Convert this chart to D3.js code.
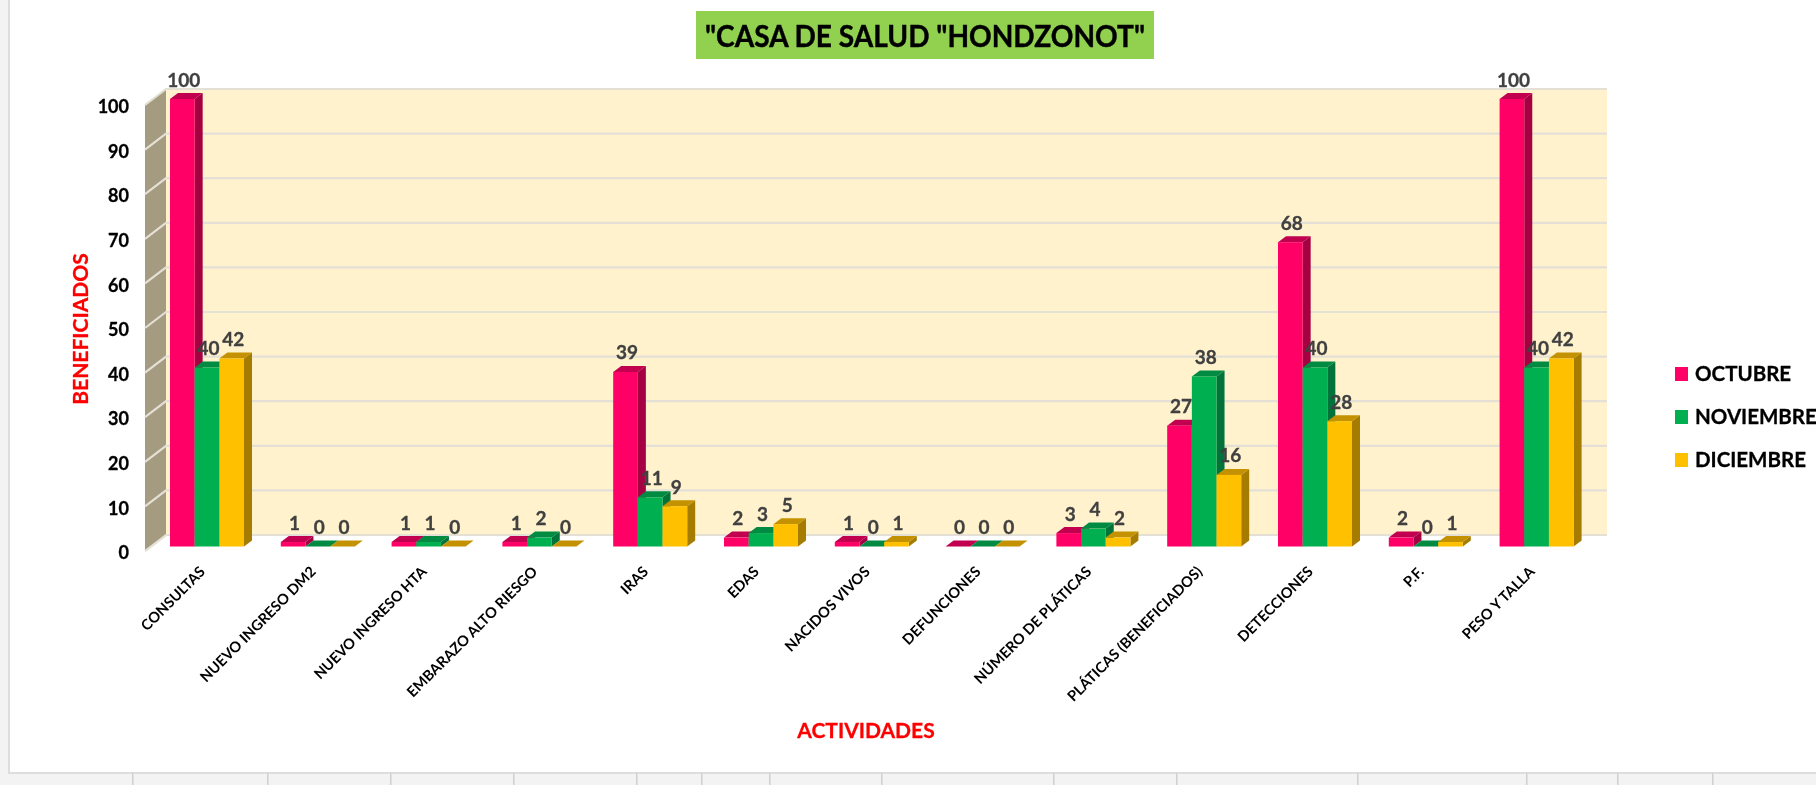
<!DOCTYPE html>
<html>
<head>
<meta charset="utf-8">
<title>Casa de Salud Hondzonot</title>
<script src="https://cdnjs.cloudflare.com/ajax/libs/d3/7.8.5/d3.min.js"></script>
<style>
	html, body { margin: 0; padding: 0; background: #fff; overflow: hidden; }
	svg { display: block; filter: blur(0.35px); font-family: Lato, sans-serif; font-weight: 700; }
	.domain { display: none; }
</style>
</head>
<body>
<div id="chart-container"></div>
<script>
const categories	= ['CONSULTAS', 'NUEVO INGRESO DM2', 'NUEVO INGRESO HTA', 'EMBARAZO ALTO RIESGO', 'IRAS', 'EDAS', 'NACIDOS VIVOS', 'DEFUNCIONES', 'NÚMERO DE PLÁTICAS', 'PLÁTICAS (BENEFICIADOS)', 'DETECCIONES', 'P.F.', 'PESO Y TALLA'];
const seriesNames	= ['OCTUBRE', 'NOVIEMBRE', 'DICIEMBRE'];
const octubre		= [100, 1, 1, 1, 39, 2, 1, 0, 3, 27, 68, 2, 100];
const noviembre		= [40, 0, 1, 2, 11, 3, 0, 0, 4, 38, 40, 0, 40];
const diciembre		= [42, 0, 0, 0, 9, 5, 1, 0, 2, 16, 28, 1, 42];
const yTicks		= [0, 10, 20, 30, 40, 50, 60, 70, 80, 90, 100];

const seriesValues	= [octubre, noviembre, diciembre];
const frontColors	= ['#FF0066', '#00B050', '#FFC000'];
const sideColors	= ['#A50042', '#00733A', '#A67C00'];
const topColors		= ['#C20050', '#008A42', '#C49200'];

// spreadsheet frame around the chart
const sheetDividers	= [132, 267, 390, 513, 636, 701, 769, 881, 1053, 1176, 1357, 1526, 1617, 1712];

let canvasWidth		= 1816;
let canvasHeight	= 785;

let wallDepth		= { x: 21, y: 16 };
let barDepth		= { x: 8, y: 6 };
let wall			= { left: 166, right: 1607, top: 89, bottom: 535 };

let svg = d3.select('#chart-container').append('svg')
	.attr('width', canvasWidth)
	.attr('height', canvasHeight);

svg.append('rect').attr('width', canvasWidth).attr('height', canvasHeight).attr('fill', '#fff');

let yWall	= d3.scaleLinear().domain([0, 100]).range([wall.bottom, wall.top]);
let yBar	= d3.scaleLinear().domain([0, 100]).range([546.5, 99]);
let x		= d3.scaleBand().domain(categories).range([151.6, 1592]).paddingInner(0.332).paddingOuter(0.166);
let xBar	= d3.scaleBand().domain(d3.range(seriesNames.length)).range([0, x.bandwidth()]);

// back wall
svg.append('rect')
	.attr('x', wall.left)
	.attr('y', wall.top)
	.attr('width', wall.right - wall.left)
	.attr('height', wall.bottom - wall.top)
	.attr('fill', '#FFF2CC');

// side wall
svg.append('polygon')
	.attr('points', [
		[wall.left - wallDepth.x, wall.top + wallDepth.y],
		[wall.left, wall.top],
		[wall.left, wall.bottom],
		[wall.left - wallDepth.x, wall.bottom + wallDepth.y]
	].join(' '))
	.attr('fill', '#A59B80');

// gridlines run along the back wall and down the side wall
svg.append('g').selectAll('polyline')
	.data(yTicks)
	.enter().append('polyline')
		.attr('points', (o) => [
			[wall.left - wallDepth.x, yWall(o) + wallDepth.y],
			[wall.left, yWall(o)],
			[wall.right, yWall(o)]
		].join(' '))
		.attr('fill', 'none')
		.attr('stroke', '#E4E0D6')
		.attr('stroke-width', 2.2);

// bars, one group per category, left to right so each covers the side of the previous
let barData = [];
categories.forEach((name, i) => {
	seriesValues.forEach((values, s) => {
		barData.push({ name: name, series: s, value: values[i] });
	});
});

let bars = svg.append('g').selectAll('g')
	.data(barData)
	.enter().append('g')
		.attr('transform', (o) => 'translate(' + (x(o.name) + xBar(o.series)) + ',0)');

let barWidth = xBar.bandwidth();

bars.append('polygon')
	.attr('fill', (o) => (sideColors[o.series]))
	.attr('points', (o) => [
		[barWidth, yBar(o.value)],
		[barWidth + barDepth.x, yBar(o.value) - barDepth.y],
		[barWidth + barDepth.x, yBar(0) - barDepth.y],
		[barWidth, yBar(0)]
	].join(' '));

bars.append('polygon')
	.attr('fill', (o) => (topColors[o.series]))
	.attr('points', (o) => [
		[0, yBar(o.value)],
		[barDepth.x, yBar(o.value) - barDepth.y],
		[barWidth + barDepth.x, yBar(o.value) - barDepth.y],
		[barWidth, yBar(o.value)]
	].join(' '));

bars.append('rect')
	.attr('fill', (o) => (frontColors[o.series]))
	.attr('width', barWidth)
	.attr('y', (o) => (yBar(o.value)))
	.attr('height', (o) => (yBar(0) - yBar(o.value)));

// value labels go last, they sit on top of neighbouring bars
svg.append('g').selectAll('text')
	.data(barData)
	.enter().append('text')
		.attr('x', (o) => (x(o.name) + xBar(o.series) + barWidth / 2 + 1.5))
		.attr('y', (o) => (yBar(o.value) - 12.5))
		.attr('text-anchor', 'middle')
		.attr('font-size', 19)
		.attr('fill', '#404040')
		.attr('stroke', '#404040')
		.attr('stroke-width', 0.3)
		.text((o) => (o.value));

// y axis labels sit on the front edge of the side wall
let yAxis = svg.append('g')
	.attr('transform', 'translate(129,' + (wallDepth.y + 2) + ')')
	.call(d3.axisLeft(yWall).tickValues(yTicks).tickSize(0).tickPadding(0));

yAxis.selectAll('text')
	.attr('font-family', 'Lato, sans-serif')
	.attr('font-size', 18)
	.attr('font-weight', 700)
	.attr('fill', '#000')
	.attr('stroke', '#000')
	.attr('stroke-width', 0.3);

// category labels
let xAxis = svg.append('g')
	.attr('transform', 'translate(-4.6,569)')
	.call(d3.axisBottom(x).tickSize(0).tickPadding(0));

xAxis.selectAll('text')
	.attr('font-family', 'Lato, sans-serif')
	.attr('font-size', 14.6)
	.attr('font-weight', 700)
	.attr('fill', '#000')
	.attr('text-anchor', 'end')
	.attr('y', 0)
	.attr('dy', '0.35em')
	.attr('transform', 'rotate(-45)');

// title
svg.append('rect')
	.attr('x', 696)
	.attr('y', 11)
	.attr('width', 458)
	.attr('height', 48)
	.attr('fill', '#92D050');

svg.append('text')
	.attr('x', 925)
	.attr('y', 47)
	.attr('text-anchor', 'middle')
	.attr('font-size', 30)
	.attr('textLength', 440)
	.attr('lengthAdjust', 'spacingAndGlyphs')
	.attr('fill', '#000')
	.attr('stroke', '#000')
	.attr('stroke-width', 0.4)
	.text('"CASA DE SALUD "HONDZONOT"');

// axis titles
svg.append('text')
	.attr('transform', 'translate(88,329) rotate(-90)')
	.attr('text-anchor', 'middle')
	.attr('font-size', 21)
	.attr('fill', '#FF0000')
	.attr('stroke', '#FF0000')
	.attr('stroke-width', 0.3)
	.text('BENEFICIADOS');

svg.append('text')
	.attr('x', 866)
	.attr('y', 738)
	.attr('text-anchor', 'middle')
	.attr('font-size', 21)
	.attr('fill', '#FF0000')
	.attr('stroke', '#FF0000')
	.attr('stroke-width', 0.3)
	.text('ACTIVIDADES');

// legend
let legendY = d3.scalePoint().domain(seriesNames).range([381, 467]);

let legend = svg.append('g').selectAll('g')
	.data(seriesNames)
	.enter().append('g')
		.attr('transform', (o) => 'translate(0,' + legendY(o) + ')');

legend.append('rect')
	.attr('x', 1675)
	.attr('y', -14)
	.attr('width', 13)
	.attr('height', 14)
	.attr('fill', (o, i) => (frontColors[i]));

legend.append('text')
	.attr('x', 1695)
	.attr('y', 0)
	.attr('font-size', 20.5)
	.attr('fill', '#000')
	.attr('stroke', '#000')
	.attr('stroke-width', 0.3)
	.text((o) => (o));

// sheet frame
svg.append('rect').attr('width', 8).attr('height', canvasHeight).attr('fill', '#F3F3F3');
svg.append('rect').attr('x', 8).attr('width', 2).attr('height', canvasHeight).attr('fill', '#DDDDDD');
svg.append('rect').attr('y', 773).attr('width', canvasWidth).attr('height', 12).attr('fill', '#F3F3F3');
svg.append('rect').attr('x', 8).attr('y', 772).attr('width', canvasWidth).attr('height', 2).attr('fill', '#DDDDDD');

svg.append('g').selectAll('rect')
	.data(sheetDividers)
	.enter().append('rect')
		.attr('x', (o) => (o))
		.attr('y', 773)
		.attr('width', 1.5)
		.attr('height', 12)
		.attr('fill', '#D0D0D0');
</script>
</body>
</html>
